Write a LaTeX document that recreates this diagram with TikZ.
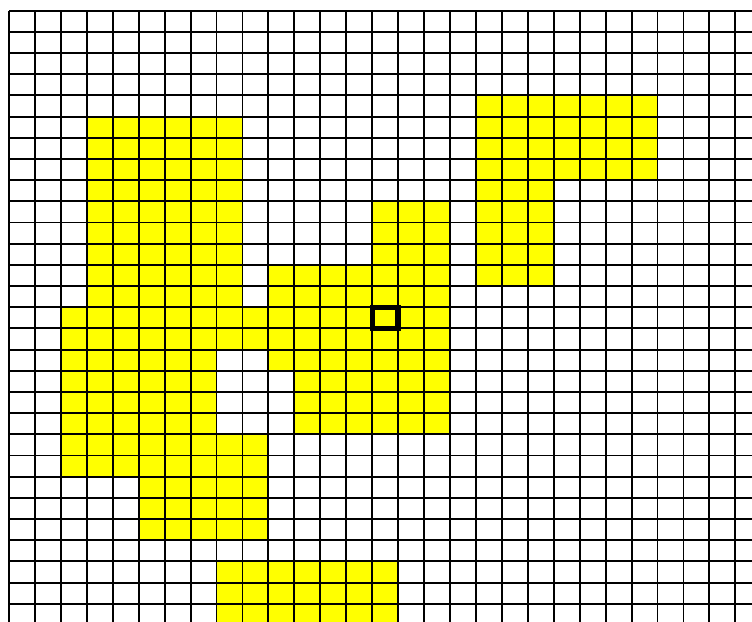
\documentclass[tikz,border=0pt]{standalone}
\usepackage{tikz}
\definecolor{CellYellow}{RGB}{255,255,0}

\begin{document}
\begin{tikzpicture}[x=0.6863cm,y=-0.5604cm,
  cell/.style={fill=CellYellow},
  gridline/.style={draw=black,line width=1.4pt},
  marked/.style={draw=black,line width=4pt}]
\clip (-0.347,-0.505) rectangle (28.643,28.815);
\fill[white] (-0.347,-0.505) rectangle (28.643,28.815);
\fill[cell] (18,4) rectangle (21,13);
\fill[cell] (21,4) rectangle (25,8);
\fill[cell] (3,5) rectangle (9,14);
\fill[cell] (14,9) rectangle (17,12);
\fill[cell] (10,12) rectangle (17,14);
\fill[cell] (2,14) rectangle (17,16);
\fill[cell] (2,16) rectangle (8,20);
\fill[cell] (10,16) rectangle (17,17);
\fill[cell] (11,17) rectangle (17,20);
\fill[cell] (2,20) rectangle (10,22);
\fill[cell] (5,22) rectangle (10,25);
\fill[cell] (8,26) rectangle (15,30);
\foreach \i in {0,...,29} {
  \draw[gridline] (\i,0) -- (\i,30);
  \draw[gridline] (0,\i) -- (30,\i);
}
\draw[marked] (14,14) rectangle (15,15);
\end{tikzpicture}
\end{document}
